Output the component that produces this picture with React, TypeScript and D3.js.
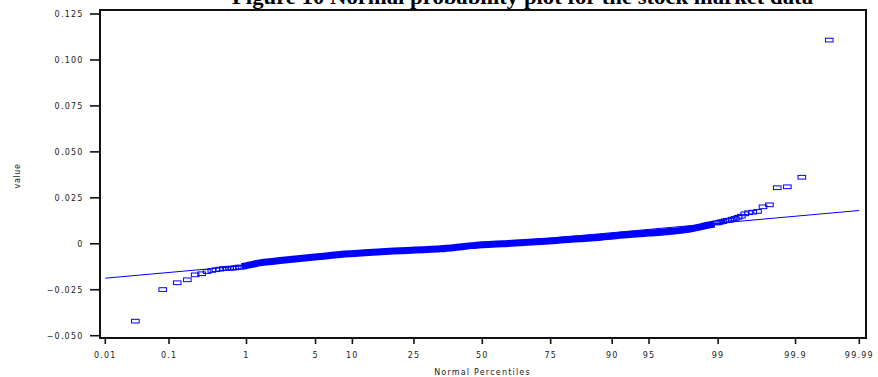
import React, { useEffect, useRef } from "react";
import * as d3 from "d3";

const titleText = "Figure 10  Normal probability plot for the stock market data";
const xTitle = "Normal Percentiles";
const yTitle = "value";

const xTickPercents = [0.01, 0.1, 1, 5, 10, 25, 50, 75, 90, 95, 99, 99.9, 99.99];
const xTickLabels = ["0.01", "0.1", "1", "5", "10", "25", "50", "75", "90", "95", "99", "99.9", "99.99"];
const yTickValues = [-0.05, -0.025, 0, 0.025, 0.05, 0.075, 0.1, 0.125];
const yTickLabels = ["\u22120.050", "\u22120.025", "0", "0.025", "0.050", "0.075", "0.100", "0.125"];

// single returns in the lower tail (plot position in %, value)
const lowTailPct = [0.031, 0.081, 0.131, 0.181, 0.231, 0.281, 0.331, 0.381, 0.431, 0.481, 0.531, 0.581, 0.631, 0.681, 0.731, 0.781, 0.831];
const lowTailVal = [-0.0421, -0.0249, -0.0212, -0.0196, -0.0169, -0.0163, -0.0151, -0.0145, -0.0141, -0.0138, -0.0135, -0.0134, -0.0133, -0.0132, -0.0131, -0.0129, -0.0126];

// the dense middle, where the squares run together
const bandPct = [0.88, 1.0, 1.2, 1.4, 2.0, 2.9, 4.0, 5.5, 8, 11, 14, 18, 23, 28, 34, 40, 46, 50, 54, 60, 66, 72, 78, 83, 88, 92.7, 95, 96.5, 97.5, 98.2, 98.6, 98.9];
const bandVal = [-0.0124, -0.0119, -0.0111, -0.0104, -0.0095, -0.0085, -0.0077, -0.0069, -0.0058, -0.0052, -0.0046, -0.0041, -0.0036, -0.0032, -0.0027, -0.0019, -0.001, -0.0005, -0.0003, 0.0002, 0.0007, 0.0013, 0.002, 0.0027, 0.0036, 0.005, 0.0058, 0.0065, 0.0073, 0.0085, 0.0098, 0.0108];

// single returns in the upper tail
const highTailPct = [98.969, 99.019, 99.069, 99.119, 99.169, 99.219, 99.269, 99.319, 99.369, 99.419, 99.469, 99.519, 99.569, 99.619, 99.669, 99.719, 99.769, 99.819, 99.869, 99.919, 99.969];
const highTailVal = [0.0113, 0.0116, 0.0119, 0.0121, 0.0125, 0.0127, 0.0129, 0.0134, 0.0138, 0.0144, 0.015, 0.0163, 0.0169, 0.0172, 0.0176, 0.0201, 0.0212, 0.0305, 0.031, 0.0362, 0.1108];

// fitted normal reference line
const fitMean = -0.0003;
const fitSd = 0.00495;

const blue = "#0000ff";

// inverse normal cdf (Acklam)
function probit(p: number): number {
  const a = [-39.69683028665376, 220.9460984245205, -275.9285104469687, 138.357751867269, -30.66479806614716, 2.506628277459239];
  const b = [-54.47609879822406, 161.5858368580409, -155.6989798598866, 66.80131188771972, -13.28068155288572];
  const c = [-0.007784894002430293, -0.3223964580411365, -2.400758277161838, -2.549732539343734, 4.374664141464968, 2.938163982698783];
  const d = [0.007784695709041462, 0.3224671290700398, 2.445134137142996, 3.754408661907416];
  const pl = 0.02425;
  if (p < pl) {
    const q = Math.sqrt(-2 * Math.log(p));
    return (((((c[0] * q + c[1]) * q + c[2]) * q + c[3]) * q + c[4]) * q + c[5]) / ((((d[0] * q + d[1]) * q + d[2]) * q + d[3]) * q + 1);
  }
  if (p > 1 - pl) {
    const q = Math.sqrt(-2 * Math.log(1 - p));
    return -(((((c[0] * q + c[1]) * q + c[2]) * q + c[3]) * q + c[4]) * q + c[5]) / ((((d[0] * q + d[1]) * q + d[2]) * q + d[3]) * q + 1);
  }
  const q = p - 0.5;
  const r = q * q;
  return ((((((a[0] * r + a[1]) * r + a[2]) * r + a[3]) * r + a[4]) * r + a[5]) * q) / (((((b[0] * r + b[1]) * r + b[2]) * r + b[3]) * r + b[4]) * r + 1);
}

export default function App() {
  const ref = useRef<SVGSVGElement>(null);

  useEffect(() => {
    const svg = d3.select(ref.current);
    svg.selectAll("*").remove();

    const frame = { left: 100, right: 866, top: 10, bottom: 338 };
    const zMax = probit(0.9999);

    const xScale = d3.scaleLinear().domain([-zMax, zMax]).range([105.3, 859.3]);
    const yScale = d3.scaleLinear().domain([-0.05, 0.125]).range([335.7, 14]);
    const px = (pct: number) => xScale(probit(pct / 100));

    const tickFont = "DejaVu Sans, sans-serif";

    // title (sits partly above the page top, as in the original)
    svg
      .append("text")
      .attr("x", 232)
      .attr("y", 3.5)
      .attr("textLength", 581)
      .attr("lengthAdjust", "spacingAndGlyphs")
      .attr("font-family", "Liberation Serif, Times New Roman, serif")
      .attr("font-weight", "bold")
      .attr("font-size", 20)
      .text(titleText);

    // fitted line
    const fitPts = [xTickPercents[0], xTickPercents[xTickPercents.length - 1]].map((p) => {
      const z = probit(p / 100);
      return [xScale(z), yScale(fitMean + fitSd * z)] as [number, number];
    });
    svg
      .append("path")
      .attr("d", d3.line()(fitPts))
      .attr("stroke", blue)
      .attr("stroke-width", 1)
      .attr("fill", "none");

    // dense band
    const bandLine = d3
      .line<number>()
      .x((p) => px(p))
      .y((p, i) => yScale(bandVal[i]))
      .curve(d3.curveMonotoneX);
    svg
      .append("path")
      .attr("d", bandLine(bandPct))
      .attr("stroke", blue)
      .attr("stroke-width", 7)
      .attr("fill", "none");

    // individual squares
    const pts = [
      ...lowTailPct.map((p, i) => [p, lowTailVal[i]]),
      ...highTailPct.map((p, i) => [p, highTailVal[i]]),
    ];
    const mw = 7.6;
    const mh = 3.7;
    svg
      .append("g")
      .selectAll("rect")
      .data(pts)
      .enter()
      .append("rect")
      .attr("x", (d) => px(d[0]) - mw / 2)
      .attr("y", (d) => yScale(d[1]) - mh / 2)
      .attr("width", mw)
      .attr("height", mh)
      .attr("fill", "none")
      .attr("stroke", blue)
      .attr("stroke-width", 1);

    // frame
    svg
      .append("rect")
      .attr("x", frame.left)
      .attr("y", frame.top)
      .attr("width", frame.right - frame.left)
      .attr("height", frame.bottom - frame.top)
      .attr("fill", "none")
      .attr("stroke", "#111")
      .attr("stroke-width", 2);

    // y axis
    const yg = svg.append("g");
    yTickValues.forEach((v, i) => {
      yg.append("line")
        .attr("x1", 90)
        .attr("x2", frame.left)
        .attr("y1", yScale(v))
        .attr("y2", yScale(v))
        .attr("stroke", "#111")
        .attr("stroke-width", 1.6);
      yg.append("text")
        .attr("x", 83.5)
        .attr("y", yScale(v))
        .attr("dy", "0.36em")
        .attr("text-anchor", "end")
        .attr("font-family", tickFont)
        .attr("font-size", 8)
        .attr("letter-spacing", 1.2)
        .attr("fill", "#222")
        .text(yTickLabels[i]);
    });

    // x axis
    const xg = svg.append("g");
    xTickPercents.forEach((p, i) => {
      const x = px(p);
      xg.append("line")
        .attr("x1", x)
        .attr("x2", x)
        .attr("y1", frame.bottom)
        .attr("y2", frame.bottom + 6)
        .attr("stroke", "#111")
        .attr("stroke-width", 1.6);
      xg.append("text")
        .attr("x", x)
        .attr("y", 357.5)
        .attr("text-anchor", "middle")
        .attr("font-family", tickFont)
        .attr("font-size", 8)
        .attr("letter-spacing", 1.2)
        .attr("fill", "#222")
        .text(xTickLabels[i]);
    });

    svg
      .append("text")
      .attr("x", 482.5)
      .attr("y", 374.5)
      .attr("text-anchor", "middle")
      .attr("font-family", tickFont)
      .attr("font-size", 8)
      .attr("letter-spacing", 1.2)
      .attr("fill", "#222")
      .text(xTitle);

    svg
      .append("text")
      .attr("transform", "translate(20,176) rotate(-90)")
      .attr("text-anchor", "middle")
      .attr("font-family", tickFont)
      .attr("font-size", 8)
      .attr("letter-spacing", 0.6)
      .attr("fill", "#222")
      .text(yTitle);
  }, []);

  return (
    <svg
      ref={ref}
      width={878}
      height={377}
      style={{ position: "absolute", left: 0, top: 0, background: "#fff" }}
    ></svg>
  );
}
